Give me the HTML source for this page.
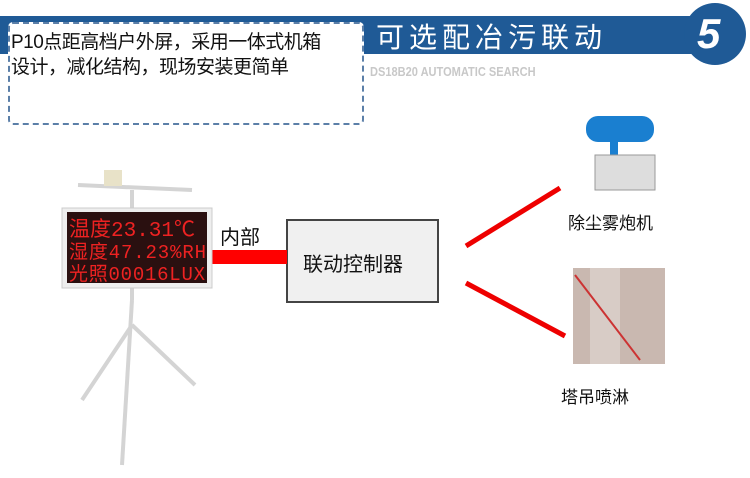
<!DOCTYPE html>
<html><head><meta charset="utf-8"><style>
body{margin:0;width:750px;height:478px;background:#fff;position:relative;overflow:hidden;font-family:"Liberation Sans","Noto Sans CJK SC",sans-serif}
.a{position:absolute}
</style></head><body>
<div class="a" style="left:0;top:16px;width:720px;height:38px;background:#1f5a96"></div>
<div class="a" style="left:684px;top:3px;width:62px;height:62px;border-radius:50%;background:#1f5a96"></div>
<div class="a" style="left:697px;top:10px;font-size:42px;font-weight:bold;font-style:italic;color:#fff">5</div>
<div class="a" style="left:376px;top:16px;font-size:28px;color:#fff;letter-spacing:5px">可选配冶污联动</div>
<div class="a" style="left:370px;top:64px;font-size:13px;font-weight:bold;color:#c8c8c8;transform:scaleX(.85);transform-origin:left">DS18B20 AUTOMATIC SEARCH</div>
<div class="a" style="left:8px;top:22px;width:352px;height:99px;background:#fff;border:2px dashed #5b7fa8;border-radius:5px"></div>
<div class="a" style="left:11px;top:30px;font-size:19px;line-height:25px;color:#111;letter-spacing:-0.5px">P10点距高档户外屏，采用一体式机箱<br>设计，减化结构，现场安装更简单</div>
<svg class="a" style="left:0;top:0" width="750" height="478">
<rect x="287" y="220" width="151" height="82" fill="#f0f0f0" stroke="#444" stroke-width="2"/>
<rect x="210" y="250" width="77" height="14" fill="#f00"/>
<line x1="466" y1="246" x2="560" y2="188" stroke="#e00" stroke-width="5"/>
<line x1="466" y1="283" x2="565" y2="336" stroke="#e00" stroke-width="5"/>
<g stroke="#d4d4d4" stroke-width="4" fill="none">
<line x1="132" y1="190" x2="132" y2="300"/>
<line x1="132" y1="300" x2="122" y2="465"/>
<line x1="132" y1="325" x2="82" y2="400"/>
<line x1="132" y1="325" x2="195" y2="385"/>
<line x1="78" y1="185" x2="192" y2="190"/>
</g>
<rect x="104" y="170" width="18" height="16" fill="#e8e2c8"/>
<rect x="62" y="208" width="150" height="80" fill="#eee" stroke="#ccc"/>
<rect x="67" y="212" width="140" height="71" fill="#2a1010"/>
<text x="69" y="236" fill="#e22" font-size="21" font-family="Liberation Mono,Noto Sans CJK SC,monospace">温度23.31℃</text>
<text x="69" y="258" fill="#e22" font-size="19" font-family="Liberation Mono,Noto Sans CJK SC,monospace" textLength="137">湿度47.23%RH</text>
<text x="69" y="280" fill="#e22" font-size="19" font-family="Liberation Mono,Noto Sans CJK SC,monospace" textLength="136">光照00016LUX</text>
<rect x="586" y="116" width="68" height="26" rx="12" fill="#1a7fd0"/>
<rect x="610" y="140" width="8" height="16" fill="#1a7fd0"/>
<rect x="595" y="155" width="60" height="35" fill="#ddd" stroke="#999"/>
<rect x="573" y="268" width="92" height="96" fill="#c9b8b0"/>
<rect x="590" y="268" width="30" height="96" fill="#d8ccc6"/>
<line x1="575" y1="275" x2="640" y2="360" stroke="#c33" stroke-width="2"/>
</svg>
<div class="a" style="left:220px;top:221px;font-size:20px;color:#111">内部</div>
<div class="a" style="left:303px;top:248px;font-size:20px;color:#111">联动控制器</div>
<div class="a" style="left:568px;top:209px;font-size:17px;color:#111">除尘雾炮机</div>
<div class="a" style="left:561px;top:383px;font-size:17px;color:#111">塔吊喷淋</div>
</body></html>
